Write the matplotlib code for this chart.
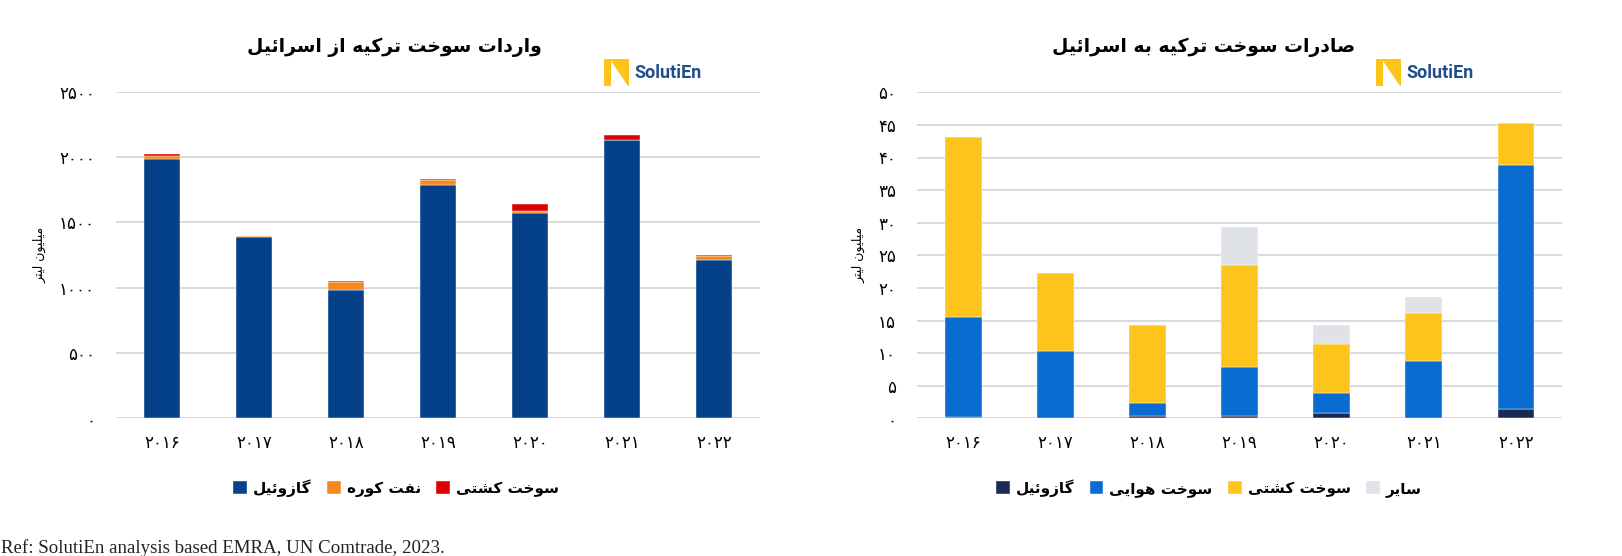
import matplotlib
matplotlib.use("Agg")
import matplotlib.pyplot as plt
from matplotlib.patches import Rectangle, Polygon
import numpy as np

# ---------------- data ----------------
years = [2016, 2017, 2018, 2019, 2020, 2021, 2022]

imp_labels = ["گازوئیل", "نفت کوره", "سوخت کشتی"]
imp_gasoil = [1985, 1388, 980, 1789, 1570, 2129, 1212]
imp_fueloil = [25, 6, 66, 35, 20, 0, 28]
imp_bunker = [12, 3, 8, 10, 50, 40, 8]
imp_colors = ["#04418A", "#F7871F", "#DE0000"]

exp_labels = ["گازوئیل", "سوخت هوایی", "سوخت کشتی", "سایر"]
exp_gasoil = [0.15, 0.0, 0.3, 0.35, 0.77, 0.0, 1.48]
exp_jet = [15.35, 10.34, 2.1, 7.55, 3.17, 8.86, 37.36]
exp_bunker = [27.6, 11.9, 11.9, 15.65, 7.53, 7.22, 6.49]
exp_other = [0.0, 0.0, 0.0, 5.85, 2.87, 2.56, 0.0]
exp_colors = ["#1B2A55", "#0A6BD0", "#FDC51B", "#DFE2E7"]

imp_title = "واردات سوخت ترکیه از اسرائیل"
exp_title = "صادرات سوخت ترکیه به اسرائیل"
ylabel_txt = "میلیون لیتر"
footer = "Ref: SolutiEn analysis based EMRA, UN Comtrade, 2023."

# ---------------- Persian shaping ----------------
# (isolated, final, initial, medial); None => right-joining only
FORMS = {
    'ا': (0xFE8D, 0xFE8E, None, None), 'آ': (0xFE81, 0xFE82, None, None),
    'ب': (0xFE8F, 0xFE90, 0xFE91, 0xFE92), 'پ': (0xFB56, 0xFB57, 0xFB58, 0xFB59),
    'ت': (0xFE95, 0xFE96, 0xFE97, 0xFE98), 'ث': (0xFE99, 0xFE9A, 0xFE9B, 0xFE9C),
    'ج': (0xFE9D, 0xFE9E, 0xFE9F, 0xFEA0), 'چ': (0xFB7A, 0xFB7B, 0xFB7C, 0xFB7D),
    'ح': (0xFEA1, 0xFEA2, 0xFEA3, 0xFEA4), 'خ': (0xFEA5, 0xFEA6, 0xFEA7, 0xFEA8),
    'د': (0xFEA9, 0xFEAA, None, None), 'ذ': (0xFEAB, 0xFEAC, None, None),
    'ر': (0xFEAD, 0xFEAE, None, None), 'ز': (0xFEAF, 0xFEB0, None, None),
    'ژ': (0xFB8A, 0xFB8B, None, None),
    'س': (0xFEB1, 0xFEB2, 0xFEB3, 0xFEB4), 'ش': (0xFEB5, 0xFEB6, 0xFEB7, 0xFEB8),
    'ص': (0xFEB9, 0xFEBA, 0xFEBB, 0xFEBC), 'ض': (0xFEBD, 0xFEBE, 0xFEBF, 0xFEC0),
    'ط': (0xFEC1, 0xFEC2, 0xFEC3, 0xFEC4), 'ظ': (0xFEC5, 0xFEC6, 0xFEC7, 0xFEC8),
    'ع': (0xFEC9, 0xFECA, 0xFECB, 0xFECC), 'غ': (0xFECD, 0xFECE, 0xFECF, 0xFED0),
    'ف': (0xFED1, 0xFED2, 0xFED3, 0xFED4), 'ق': (0xFED5, 0xFED6, 0xFED7, 0xFED8),
    'ک': (0xFB8E, 0xFB8F, 0xFB90, 0xFB91), 'گ': (0xFB92, 0xFB93, 0xFB94, 0xFB95),
    'ل': (0xFEDD, 0xFEDE, 0xFEDF, 0xFEE0), 'م': (0xFEE1, 0xFEE2, 0xFEE3, 0xFEE4),
    'ن': (0xFEE5, 0xFEE6, 0xFEE7, 0xFEE8), 'ه': (0xFEE9, 0xFEEA, 0xFEEB, 0xFEEC),
    'و': (0xFEED, 0xFEEE, None, None), 'ی': (0xFBFC, 0xFBFD, 0xFBFE, 0xFBFF),
    'ئ': (0xFE89, 0xFE8A, 0xFE8B, 0xFE8C), 'ي': (0xFEF1, 0xFEF2, 0xFEF3, 0xFEF4),
}


def dual(c):
    return c in FORMS and FORMS[c][2] is not None


def shape(text):
    out = []
    n = len(text)
    for i, c in enumerate(text):
        if c not in FORMS:
            out.append(c)
            continue
        prev = text[i - 1] if i > 0 else ''
        nxt = text[i + 1] if i < n - 1 else ''
        cp = dual(prev)
        cn = dual(c) and nxt in FORMS
        f = FORMS[c]
        if cp and cn:
            code = f[3]
        elif cp:
            code = f[1]
        elif cn:
            code = f[2]
        else:
            code = f[0]
        out.append(chr(code))
    return ''.join(reversed(out))


FA_DIG = str.maketrans("0123456789", "۰۱۲۳۴۵۶۷۸۹")


def fa(n):
    return str(n).translate(FA_DIG)


# ---------------- figure ----------------
W, H = 1622, 556
fig = plt.figure(figsize=(W / 100, H / 100), dpi=100)
AR = ['DejaVu Sans']


def ax_rect(x0, x1, ytop, ybot):
    return [x0 / W, 1 - ybot / H, (x1 - x0) / W, (ybot - ytop) / H]


def px(x, y):
    return x / W, 1 - y / H


ax1 = fig.add_axes(ax_rect(116, 760, 91.7, 418.3))
ax2 = fig.add_axes(ax_rect(917, 1562, 92.3, 418.3))

x = np.arange(len(years))
bw = 0.4


def style(ax, ymax, step):
    ax.set_xlim(-0.5, len(years) - 0.5)
    ax.set_ylim(0, ymax)
    ticks = np.arange(0, ymax + step / 2, step)
    ax.set_yticks(ticks)
    ax.set_yticklabels([fa(int(t)) for t in ticks], family=AR, fontsize=12)
    ax.set_xticks(x)
    ax.set_xticklabels([fa(y) for y in years], family=AR, fontsize=12)
    ax.tick_params(length=0, pad=11, axis='x')
    ax.tick_params(length=0, pad=15, axis='y')
    for s in ax.spines.values():
        s.set_visible(False)
    ax.set_axisbelow(True)
    ax.yaxis.grid(True, color='#D9D9D9', linewidth=1.4)
    ax.set_ylabel(shape(ylabel_txt), family=AR, fontsize=9, labelpad=9)


# left: imports
bottom = np.zeros(len(years))
h_imp = []
for vals, col in zip([imp_gasoil, imp_fueloil, imp_bunker], imp_colors):
    b = ax1.bar(x, vals, bw, bottom=bottom, color=col, edgecolor='white', linewidth=0.3)
    h_imp.append(b)
    bottom += np.array(vals)
style(ax1, 2500, 500)

# right: exports
bottom = np.zeros(len(years))
h_exp = []
for vals, col in zip([exp_gasoil, exp_jet, exp_bunker, exp_other], exp_colors):
    b = ax2.bar(x, vals, bw, bottom=bottom, color=col, edgecolor='white', linewidth=0.3)
    h_exp.append(b)
    bottom += np.array(vals)
style(ax2, 50, 5)

# titles
fig.text(*px(394, 47), shape(imp_title), family=AR, fontsize=13.5, fontweight='bold',
         ha='center', va='center')
fig.text(*px(1204, 47), shape(exp_title), family=AR, fontsize=13.5, fontweight='bold',
         ha='center', va='center')

# legends
leg_kw = dict(loc='center', frameon=False,
              prop={'family': AR, 'weight': 'bold', 'size': 11},
              handlelength=0.9, handleheight=0.9, handletextpad=0.4, columnspacing=1.0)
fig.legend(h_imp, [shape(t) for t in imp_labels], bbox_to_anchor=px(396, 488), ncol=3, **leg_kw)
fig.legend(h_exp, [shape(t) for t in exp_labels], bbox_to_anchor=px(1209, 488), ncol=4, **leg_kw)


# logos
def logo(x0, y0):
    w, h = 25, 27
    xa, ya = px(x0, y0 + h)
    fig.add_artist(Rectangle((xa, ya), w / W, h / H, transform=fig.transFigure,
                             facecolor='#FDC51B', edgecolor='none'))
    pts = [px(x0 + 0.26 * w, y0 + 0.08 * h), px(x0 + 0.26 * w, y0 + h),
           px(x0 + 0.95 * w, y0 + h)]
    fig.add_artist(Polygon(pts, closed=True, transform=fig.transFigure,
                           facecolor='white', edgecolor='none'))
    fig.text(*px(x0 + w + 5, y0 + h / 2 + 1), "SolutiEn", fontsize=13, fontweight='bold',
             color='#1F4E8C', ha='left', va='center', family='Roboto')


logo(604, 59)
logo(1376, 59)

# footer
fig.text(*px(1, 548), footer, family='Liberation Serif', fontsize=13.6,
         ha='left', va='center', color='#222222')

fig.savefig("out.png", dpi=100)
